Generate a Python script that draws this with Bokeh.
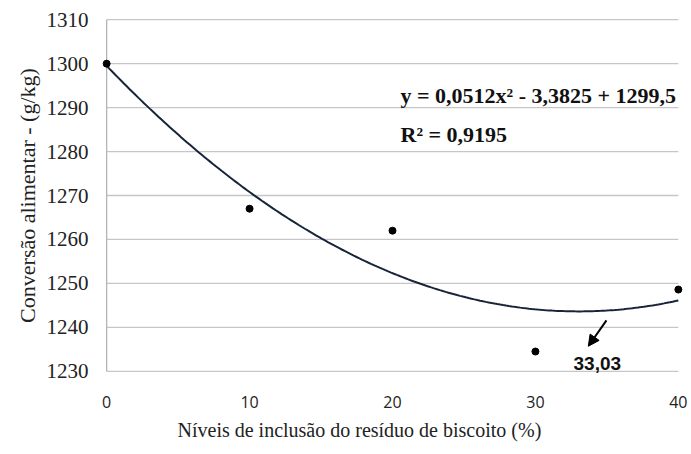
import numpy as np
from bokeh.plotting import figure
from bokeh.models import Range1d, FixedTicker, Label, Arrow, NormalHead, Title
from bokeh.embed import file_html
from bokeh.resources import INLINE

# Data
niveis = [0, 10, 20, 30, 40]
conversao = [1300, 1267, 1262, 1234.5, 1248.6]
coef = [0.0512, -3.3825, 1299.5]   # quadratic fit printed on the chart
x_ticks = [0, 10, 20, 30, 40]
y_ticks = [1230, 1240, 1250, 1260, 1270, 1280, 1290, 1300, 1310]
eq_text = "y = 0,0512x\u00b2 - 3,3825 + 1299,5"
r2_text = "R\u00b2 = 0,9195"
min_text = "33,03"
x_min = 33.03
x_title = "N\u00edveis de inclus\u00e3o do res\u00edduo de biscoito (%)"
y_title = "Convers\u00e3o alimentar - (g/kg)"

SERIF = "'Liberation Serif'"
SANS = "'Open Sans'"

p = figure(width=691, height=454, output_backend="svg", toolbar_location=None,
           x_range=Range1d(-0.5, 40.5), y_range=Range1d(1229.5, 1310.5),
           min_border_left=99, min_border_right=6, min_border_top=17, min_border_bottom=81)
p.outline_line_color = None
p.background_fill_color = "white"
p.border_fill_color = "white"
p.xgrid.grid_line_color = None
p.ygrid.grid_line_color = None

# horizontal grid lines spanning 0..40
p.segment(x0=[x_ticks[0]] * len(y_ticks), x1=[x_ticks[-1]] * len(y_ticks),
          y0=y_ticks, y1=y_ticks, line_color="#c6c6c6", line_width=1.3)
# vertical axis line at x=0
p.segment(x0=[x_ticks[0]], x1=[x_ticks[0]], y0=[y_ticks[0]], y1=[y_ticks[-1]],
          line_color="#b4b4b4", line_width=1.3)

# fitted curve
xs = np.linspace(0, 40, 200)
ys = coef[0] * xs ** 2 + coef[1] * xs + coef[2]
p.line(xs, ys, line_color="#17243a", line_width=2)

# observed points
p.scatter(niveis, conversao, size=7, color="black")

# axes
xax = p.xaxis[0]
yax = p.yaxis[0]
xax.ticker = FixedTicker(ticks=x_ticks)
yax.ticker = FixedTicker(ticks=y_ticks)
for ax in (xax, yax):
    ax.axis_line_color = None
    ax.major_tick_line_color = None
    ax.minor_tick_line_color = None
    ax.major_tick_in = 0
    ax.major_tick_out = 0
xax.major_label_text_font = SANS
xax.major_label_text_font_size = "16px"
xax.major_label_text_color = "#222222"
xax.major_label_standoff = 22
yax.major_label_text_font = SERIF
yax.major_label_text_font_size = "21px"
yax.major_label_text_font_style = "normal"
yax.major_label_text_color = "#222222"
yax.major_label_standoff = 11
yax.axis_label = y_title
yax.axis_label_text_font = SERIF
yax.axis_label_text_font_size = "22px"
yax.axis_label_text_font_style = "normal"
yax.axis_label_text_color = "#222222"
yax.axis_label_standoff = 4

# x axis title (placed left of frame centre as in the reference)
p.add_layout(Title(text=x_title, text_font=SERIF, text_font_size="20px",
                   text_font_style="normal", text_color="#222222",
                   align="left", offset=78, standoff=13), "below")

# equation and R2
p.add_layout(Label(x=20.56, y=1292.7, text=eq_text, text_font=SERIF,
                   text_font_size="22px", text_font_style="bold", text_color="#111111",
                   text_baseline="middle"))
p.add_layout(Label(x=20.56, y=1283.9, text=r2_text, text_font=SERIF,
                   text_font_size="22px", text_font_style="bold", text_color="#111111",
                   text_baseline="middle"))

# arrow to the minimum and label
p.add_layout(Arrow(x_start=34.97, y_start=1241.6, x_end=33.7, y_end=1235.7,
                   line_color="black", line_width=2,
                   end=NormalHead(size=11, fill_color="black", line_color="black")))
p.add_layout(Label(x=x_min + 1.3, y=1231.7, text=min_text, text_font="'Liberation Sans'",
                   text_font_size="19px", text_font_style="bold", text_color="#111111",
                   text_align="center", text_baseline="middle"))

open("out.html", "w").write(file_html(p, INLINE))
